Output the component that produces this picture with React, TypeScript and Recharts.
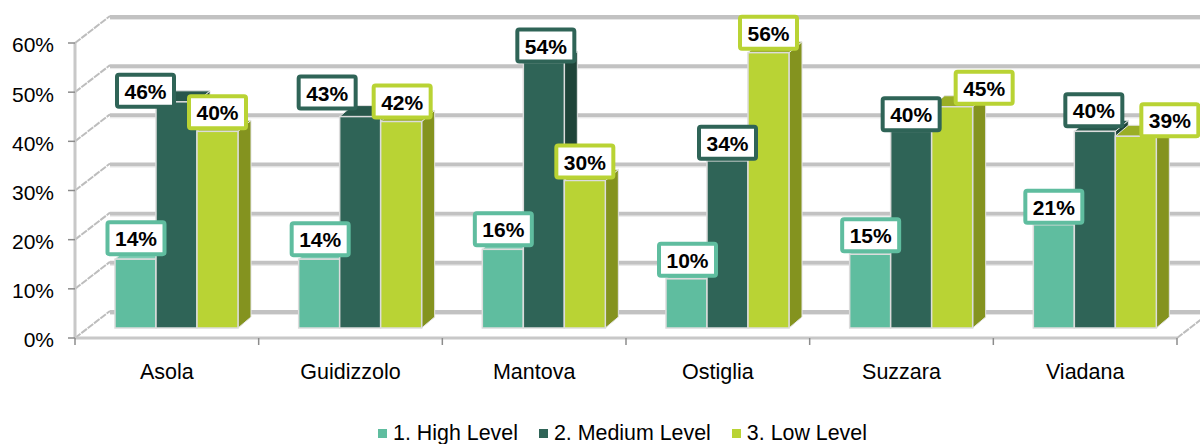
import {
  BarChart,
  Bar,
  XAxis,
  YAxis,
  CartesianGrid,
  Legend,
  LabelList,
} from "recharts";

const towns = ["Asola", "Guidizzolo", "Mantova", "Ostiglia", "Suzzara", "Viadana"];
const highLevel = [14, 14, 16, 10, 15, 21];
const mediumLevel = [46, 43, 54, 34, 40, 40];
const lowLevel = [40, 42, 30, 56, 45, 39];
const yTicks = [0, 10, 20, 30, 40, 50, 60];

const tableData = towns.map((town, i) => ({
  town,
  high: highLevel[i],
  medium: mediumLevel[i],
  low: lowLevel[i],
}));

// hand-placed data labels, same as in the original sheet: [dx, dy] from the bar top centre
const highNudge = [[0.5, -21], [1, -20], [0.5, -20], [1, -19], [0.5, -19], [0, -18]];
const mediumNudge = [[-31, -11], [-33, -24], [2, -17], [0, -18], [0, -17], [-1, -21]];
const lowNudge = [[0, -19], [1, -20], [0, -19], [0, -20], [32, -19], [34, -16]];

const FONT = "'Liberation Sans', Arial, sans-serif";
const BAND = 1102 / 6;
const BACK_X = 35;
const BACK_Y = -27;
const BAR_X = 9.75;
const BAR_Y = -10;
const DEPTH_X = 13;
const DEPTH_Y = -11;
const FLOOR_Y = 338;

function GridLine(props: any) {
  const { x1, x2, y1 } = props;
  return (
    <g>
      <line x1={x1} y1={y1} x2={x1 + BACK_X} y2={y1 + BACK_Y} stroke="#bdbdbd" strokeWidth={2} strokeDasharray="7 1" />
      <line x1={x1 + BACK_X} y1={y1 + BACK_Y + 1} x2={x2 + BACK_X} y2={y1 + BACK_Y + 1} stroke="#c2c2c2" strokeWidth={4} />
      <line x1={x1 + BACK_X} y1={y1 + BACK_Y + 3.5} x2={x2 + BACK_X} y2={y1 + BACK_Y + 3.5} stroke="#e6e6e6" strokeWidth={1} />
      {y1 === FLOOR_Y && (
        <line x1={x2} y1={y1} x2={x2 + BACK_X} y2={y1 + BACK_Y} stroke="#bdbdbd" strokeWidth={2} strokeDasharray="7 1" />
      )}
    </g>
  );
}

function Bar3D(props: any) {
  const { x, y, width, height, fill, side, top } = props;
  const left = x + BAR_X;
  const right = left + width;
  const upper = y + BAR_Y;
  const lower = upper + height;
  return (
    <g>
      <polygon
        points={`${right},${upper} ${right + DEPTH_X},${upper + DEPTH_Y} ${right + DEPTH_X},${lower + DEPTH_Y} ${right},${lower}`}
        fill={side}
        stroke="#e4e4e4"
        strokeWidth={1}
      />
      <polygon
        points={`${left},${upper} ${left + DEPTH_X},${upper + DEPTH_Y} ${right + DEPTH_X},${upper + DEPTH_Y} ${right},${upper}`}
        fill={top}
        stroke="#e4e4e4"
        strokeWidth={1}
      />
      <rect x={left} y={upper} width={width} height={height} fill={fill} stroke="#dcdcdc" strokeWidth={1.5} />
    </g>
  );
}

function boxLabel(color: string, nudge: number[][]) {
  return (props: any) => {
    const { x, y, width, value, index } = props;
    const cx = x + BAR_X + width / 2 + nudge[index][0];
    const cy = y + BAR_Y + nudge[index][1];
    return (
      <g>
        <rect x={cx - 28.5} y={cy - 16} width={57} height={32} rx={2} fill="#fff" stroke={color} strokeWidth={4} />
        <text x={cx} y={cy + 8} textAnchor="middle" fontFamily={FONT} fontSize={21} fontWeight={700} fill="#000">
          {value}%
        </text>
      </g>
    );
  };
}

function TownTick(props: any) {
  const { x, y, payload, index } = props;
  const last = index === towns.length - 1;
  return (
    <g>
      <line x1={x - BAND / 2} y1={y} x2={x - BAND / 2} y2={y + 7} stroke="#8c8c8c" strokeWidth={1.5} />
      {last && <line x1={x + BAND / 2} y1={y} x2={x + BAND / 2} y2={y + 7} stroke="#8c8c8c" strokeWidth={1.5} />}
      <text x={x} y={y + 41} textAnchor="middle" fontFamily={FONT} fontSize={21.5} fill="#000">
        {payload.value}
      </text>
    </g>
  );
}

function LegendRow({ payload }: any) {
  return (
    <div style={{ height: 40, paddingLeft: 68, display: "flex", justifyContent: "center", alignItems: "flex-end", gap: 21, fontFamily: FONT, fontSize: 21.4, lineHeight: "22px", color: "#000" }}>
      {payload.map((item: any) => (
        <span key={item.value} style={{ display: "flex", alignItems: "center", gap: 6 }}>
          <span style={{ width: 9, height: 9, background: item.color, display: "inline-block" }} />
          {item.value}
        </span>
      ))}
    </div>
  );
}

export default function App() {
  return (
    <div style={{ position: "absolute", left: 0, top: 0, width: 1200, height: 444, overflow: "hidden", background: "#fff" }}>
      <BarChart
        width={1200}
        height={444}
        data={tableData}
        margin={{ top: 43, right: 23, bottom: 0, left: 0 }}
        barCategoryGap={30.25}
        barGap={0}
      >
        <CartesianGrid vertical={false} horizontal={(p: any) => <GridLine key={p.key ?? p.y1} {...p} />} />
        <XAxis
          dataKey="town"
          height={66}
          tickSize={0}
          tickMargin={0}
          interval={0}
          tick={TownTick}
          axisLine={{ stroke: "#c8c8c8", strokeWidth: 3 }}
          tickLine={false}
        />
        <YAxis
          width={75}
          domain={[0, 60]}
          ticks={yTicks}
          tickFormatter={(v: number) => `${v}%`}
          tick={{ fontFamily: FONT, fontSize: 21, fill: "#000", dy: 2 }}
          tickSize={7}
          tickMargin={14}
          tickLine={{ stroke: "#8c8c8c", strokeWidth: 1.5 }}
          axisLine={{ stroke: "#c8c8c8", strokeWidth: 3 }}
        />
        <Legend content={LegendRow} />
        <Bar dataKey="high" name="1. High Level" fill="#5fbd9f" isAnimationActive={false} shape={(p: any) => <Bar3D {...p} side="#468f78" top="#7ccdb3" />}>
          <LabelList dataKey="high" content={boxLabel("#5fbd9f", highNudge)} />
        </Bar>
        <Bar dataKey="medium" name="2. Medium Level" fill="#2f6457" isAnimationActive={false} shape={(p: any) => <Bar3D {...p} side="#1f4439" top="#28574b" />}>
          <LabelList dataKey="medium" content={boxLabel("#2f6457", mediumNudge)} />
        </Bar>
        <Bar dataKey="low" name="3. Low Level" fill="#b9d334" isAnimationActive={false} shape={(p: any) => <Bar3D {...p} side="#84931f" top="#9aae26" />}>
          <LabelList dataKey="low" content={boxLabel("#b9d334", lowNudge)} />
        </Bar>
      </BarChart>
    </div>
  );
}
